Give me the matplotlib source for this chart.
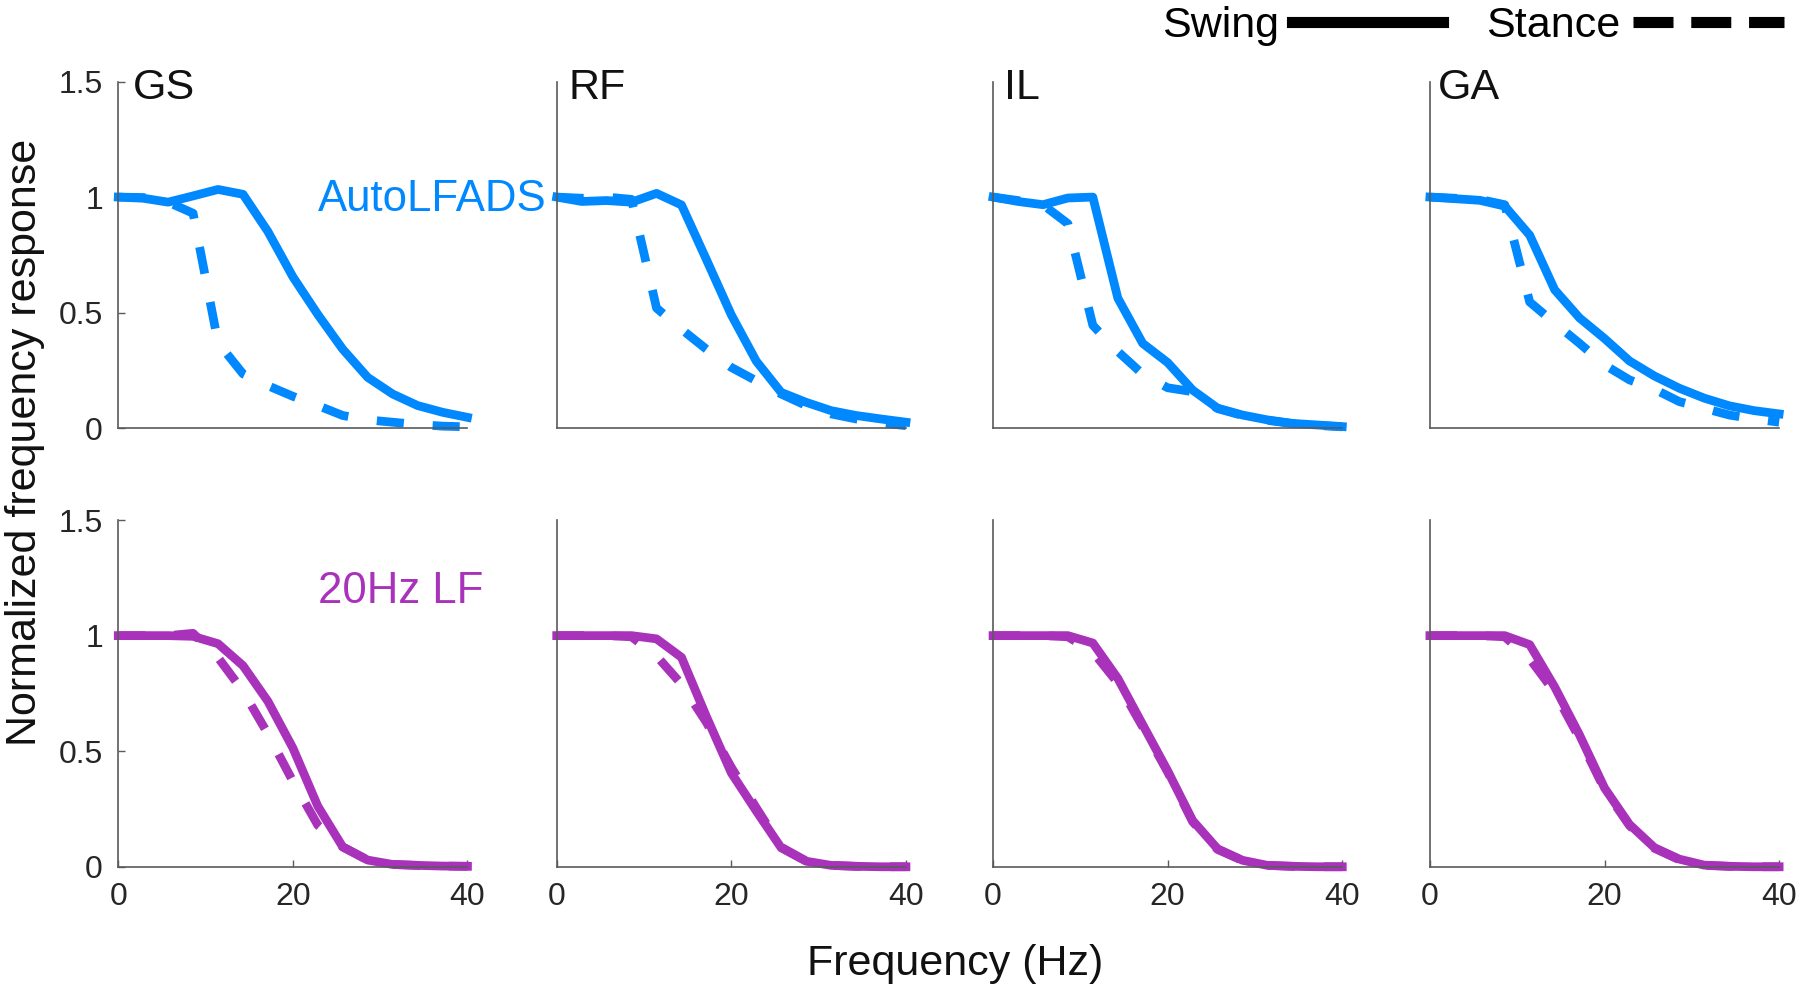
import matplotlib
matplotlib.use('Agg')
import matplotlib.pyplot as plt
from matplotlib.lines import Line2D

plt.rcParams['font.family'] = ['Liberation Sans', 'DejaVu Sans']

# frequency axis (Hz)
freq = [0, 2.86, 5.71, 8.57, 11.43, 14.29, 17.14, 20, 22.86, 25.71, 28.57, 31.43, 34.29, 37.14, 40]
muscles = ['GS', 'RF', 'IL', 'GA']

# AutoLFADS, swing / stance
auto_swing_GS = [1.0, 0.995, 0.978, 1.005, 1.033, 1.012, 0.851, 0.655, 0.492, 0.342, 0.220, 0.148, 0.098, 0.069, 0.047]
auto_stance_GS = [1.0, 0.998, 0.978, 0.93, 0.37, 0.235, 0.184, 0.138, 0.098, 0.055, 0.036, 0.026, 0.016, 0.009, 0.006]
auto_swing_RF = [1.0, 0.981, 0.985, 0.978, 1.016, 0.966, 0.73, 0.49, 0.29, 0.155, 0.112, 0.076, 0.055, 0.040, 0.026]
auto_stance_RF = [1.0, 0.995, 1.0, 0.99, 0.52, 0.428, 0.342, 0.263, 0.205, 0.148, 0.098, 0.062, 0.040, 0.023, 0.011]
auto_swing_IL = [1.0, 0.981, 0.967, 0.996, 1.0, 0.563, 0.367, 0.284, 0.165, 0.087, 0.057, 0.036, 0.021, 0.014, 0.007]
auto_stance_IL = [1.0, 0.985, 0.967, 0.885, 0.445, 0.332, 0.234, 0.175, 0.158, 0.085, 0.055, 0.034, 0.020, 0.012, 0.006]
auto_swing_GA = [1.0, 0.993, 0.986, 0.961, 0.835, 0.599, 0.477, 0.388, 0.291, 0.226, 0.173, 0.130, 0.097, 0.076, 0.062]
auto_stance_GA = [1.0, 0.995, 0.99, 0.967, 0.546, 0.455, 0.367, 0.274, 0.209, 0.169, 0.115, 0.086, 0.057, 0.040, 0.026]

# 20Hz LF, swing / stance
lf_swing_GS = [1.0, 1.0, 1.0, 0.997, 0.965, 0.870, 0.716, 0.514, 0.262, 0.086, 0.029, 0.010, 0.006, 0.003, 0.002]
lf_stance_GS = [1.0, 1.0, 1.0, 1.01, 0.905, 0.76, 0.575, 0.37, 0.18, 0.086, 0.029, 0.010, 0.006, 0.003, 0.002]
lf_swing_RF = [1.0, 1.0, 1.0, 1.0, 0.986, 0.906, 0.65, 0.406, 0.241, 0.082, 0.024, 0.006, 0.002, 0.0, 0.0]
lf_stance_RF = [1.0, 1.0, 1.0, 0.995, 0.912, 0.79, 0.625, 0.43, 0.255, 0.085, 0.025, 0.006, 0.002, 0.0, 0.0]
lf_swing_IL = [1.0, 1.0, 1.0, 1.0, 0.968, 0.815, 0.615, 0.415, 0.2, 0.078, 0.028, 0.006, 0.002, 0.0, 0.0]
lf_stance_IL = [1.0, 1.0, 1.0, 0.995, 0.93, 0.795, 0.605, 0.41, 0.195, 0.075, 0.027, 0.006, 0.002, 0.0, 0.0]
lf_swing_GA = [1.0, 1.0, 1.0, 1.0, 0.961, 0.778, 0.57, 0.341, 0.183, 0.083, 0.033, 0.007, 0.002, 0.0, 0.0]
lf_stance_GA = [1.0, 1.0, 1.0, 0.995, 0.9, 0.755, 0.555, 0.335, 0.178, 0.08, 0.03, 0.006, 0.002, 0.0, 0.0]

auto_swing = [auto_swing_GS, auto_swing_RF, auto_swing_IL, auto_swing_GA]
auto_stance = [auto_stance_GS, auto_stance_RF, auto_stance_IL, auto_stance_GA]
lf_swing = [lf_swing_GS, lf_swing_RF, lf_swing_IL, lf_swing_GA]
lf_stance = [lf_stance_GS, lf_stance_RF, lf_stance_IL, lf_stance_GA]

blue = '#0088FF'
purple = '#A832BA'
axcol = '#5a5a5a'
txtcol = '#262626'

fig = plt.figure(figsize=(18, 9.94), dpi=100)

lefts = [0.0657, 0.3093, 0.5517, 0.7944]
w = 0.1940
rows = [(0.5692, auto_swing, auto_stance, blue), (0.128, lf_swing, lf_stance, purple)]
title_x = [1.7, 1.3, 1.3, 0.95]

axes = []
for r, (bottom, sw, st, col) in enumerate(rows):
    for c in range(4):
        ax = fig.add_axes([lefts[c], bottom, w, 0.3488])
        ax.plot(freq, sw[c], color=col, lw=6.3, clip_on=False)
        ax.plot(freq, st[c], color=col, lw=6.3, dashes=(3.1, 3.3), clip_on=False)
        ax.set_xlim(0, 40)
        ax.set_ylim(0, 1.5)
        for s in ['top', 'right']:
            ax.spines[s].set_visible(False)
        for s in ['left', 'bottom']:
            ax.spines[s].set_color(axcol)
            ax.spines[s].set_linewidth(1.2)
        ax.set_xticks([0, 20, 40])
        ax.set_yticks([0, 0.5, 1, 1.5])
        ax.set_yticklabels(['0', '0.5', '1', '1.5'])
        ax.tick_params(direction='in', length=5, width=1, colors=axcol,
                       labelcolor=txtcol, labelsize=23, pad=11)
        if r == 0:
            ax.tick_params(axis='x', bottom=False, labelbottom=False)
            ax.text(title_x[c], 1.47, muscles[c], fontsize=31, color='#111111',
                    ha='left', va='center')
        if c > 0:
            ax.tick_params(axis='y', left=False, labelleft=False)
        axes.append(ax)

axes[0].text(22.9, 0.99, 'AutoLFADS', color=blue, fontsize=31.5, ha='left', va='center', clip_on=False)
axes[4].text(22.9, 1.19, '20Hz LF', color=purple, fontsize=31.5, ha='left', va='center', clip_on=False)

fig.text(0.0139, 0.555, 'Normalized frequency response', rotation=90, ha='center', va='center',
         fontsize=31, color='#111111')
fig.text(0.5306, 0.030, 'Frequency (Hz)', ha='center', va='center', fontsize=31, color='#111111')

handles = [Line2D([], [], color='black', lw=8, ls='-'),
           Line2D([], [], color='black', lw=8, dashes=(3.6, 1.6))]
fig.legend(handles, ['Swing', 'Stance'], ncol=2, markerfirst=False, frameon=False,
           loc='center right', bbox_to_anchor=(0.991, 0.974), fontsize=31,
           handlelength=3.5, handletextpad=0.3, columnspacing=1.0,
           borderpad=0, borderaxespad=0)

fig.savefig('out.png', dpi=100)
